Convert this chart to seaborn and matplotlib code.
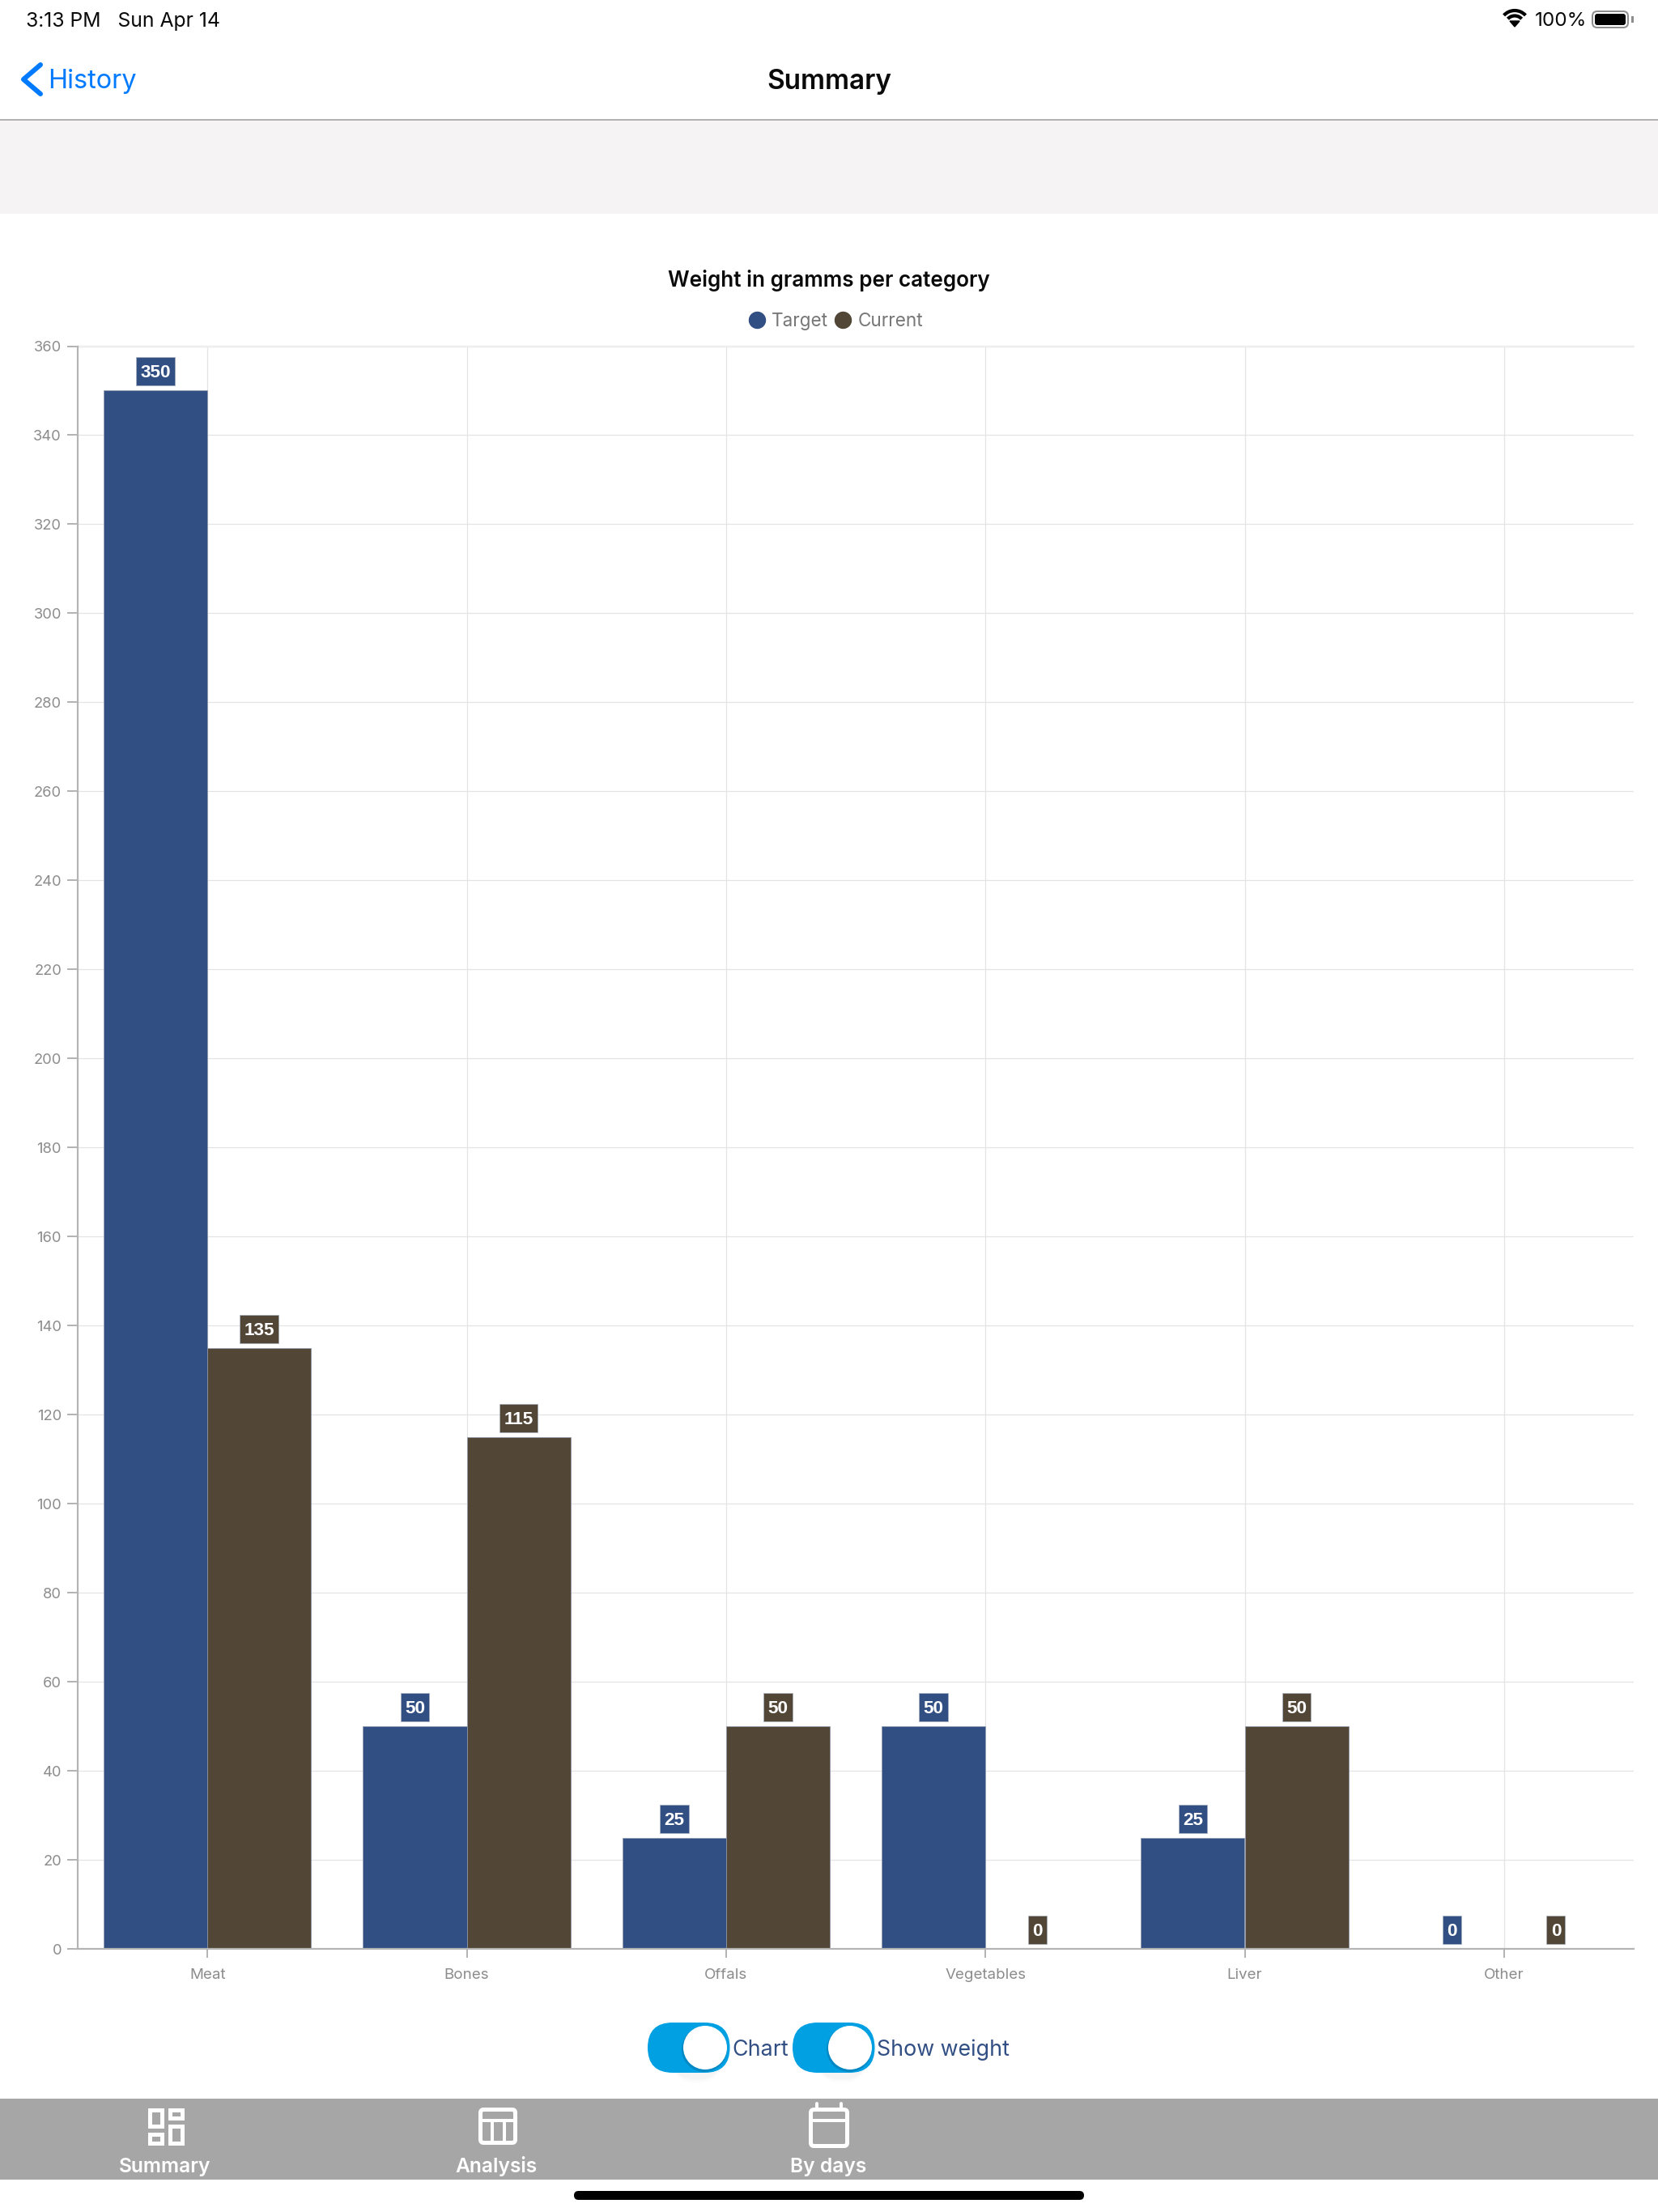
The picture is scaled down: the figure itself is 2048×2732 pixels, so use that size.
import matplotlib
matplotlib.use("Agg")
import matplotlib.pyplot as plt
from matplotlib.lines import Line2D
from matplotlib.patches import Arc, Circle, FancyBboxPatch, Polygon, Rectangle
from matplotlib.path import Path
import numpy as np
import pandas as pd
import seaborn as sns

# Weight data per category
categories = ["Meat", "Bones", "Offals", "Vegetables", "Liver", "Other"]
target_values = [350, 50, 25, 50, 25, 0]
current_values = [135, 115, 50, 0, 50, 0]
series_names = ["Target", "Current"]
y_ticks = list(range(0, 361, 20))

BLUE = "#314f83"
BROWN = "#524737"
GRID = "#e4e4e6"
AXIS = "#b4b4b4"
TICK_TEXT = "#8c8c8c"
PX = 72 / 100  # one pixel in points at dpi 100

sns.set_theme(style="white")
plt.rcParams["font.family"] = ["Inter", "DejaVu Sans"]

W, H = 2048, 2732
fig = plt.figure(figsize=(W / 100, H / 100), dpi=100, facecolor="white")

# Full-window layer in pixel units for the app chrome
ui = fig.add_axes([0, 0, 1, 1], zorder=0)
ui.set_xlim(0, W)
ui.set_ylim(H, 0)
ui.axis("off")

# Chart axes
left, right, top, bottom = 96, 2018, 427.5, 2407
ax = fig.add_axes([left / W, 1 - bottom / H, (right - left) / W, (bottom - top) / H], zorder=2)
ax.patch.set_alpha(0)

df = pd.DataFrame({
    "category": categories * 2,
    "weight": target_values + current_values,
    "series": [series_names[0]] * len(categories) + [series_names[1]] * len(categories),
})
sns.barplot(data=df, x="category", y="weight", hue="series", order=categories,
            hue_order=series_names, palette=[BLUE, BROWN], width=0.8, gap=0,
            saturation=1, edgecolor="#8f99ad", linewidth=0.5, legend=False,
            ax=ax, zorder=3)

ax.set_xlim(-0.5, len(categories) - 0.5)
ax.set_ylim(0, 360)
ax.set_yticks(y_ticks)
ax.set_xlabel("")
ax.set_ylabel("")
ax.grid(True, color=GRID, linewidth=0.9)
ax.set_axisbelow(True)
for side in ("top", "right"):
    ax.spines[side].set_visible(False)
for side in ("left", "bottom"):
    ax.spines[side].set_color(AXIS)
    ax.spines[side].set_linewidth(2.2 * PX)
    ax.spines[side].set_zorder(4)
ax.axhline(360, color="#eeeeee", linewidth=2.5 * PX, zorder=1, clip_on=False)
ax.tick_params(axis="y", length=13 * PX, width=2 * PX, color=AXIS, pad=7 * PX,
               labelsize=13.2, labelcolor=TICK_TEXT, left=True)
ax.tick_params(axis="x", length=11 * PX, width=2 * PX, color=AXIS, pad=13 * PX,
               labelsize=13.5, labelcolor=TICK_TEXT, bottom=True)


def tag_box(x0, y0, width, height, mutation_size):
    """Rectangle around a value tag: padded sideways, fixed 35 px tall."""
    cy = y0 + height / 2 + 2
    xa, xb = x0 - 5.25, x0 + width + 5.25
    ya, yb = cy - 17.5, cy + 17.5
    return Path([(xa, ya), (xb, ya), (xb, yb), (xa, yb), (xa, ya)], closed=True)


# Value tags above every bar
for container, values, colour in zip(ax.containers, [target_values, current_values], [BLUE, BROWN]):
    for bar, value in zip(container, values):
        ax.annotate(str(value), xy=(bar.get_x() + bar.get_width() / 2, value),
                    xytext=(0, 21.5 * PX), textcoords="offset points",
                    ha="center", va="center", color="white", fontsize=16.2,
                    fontweight="bold", family="Liberation Sans", zorder=6,
                    bbox=dict(boxstyle=tag_box, facecolor=colour,
                              edgecolor="#a9b1c0", linewidth=0.5))

# Title and legend
ui.text(1024, 346, "Weight in gramms per category", ha="center", va="center",
        fontsize=18.8, fontweight="semibold", color="#0a0a0a")
handles = [Line2D([], [], linestyle="", marker="o", markersize=20 * PX, color=c, label=n)
           for c, n in zip([BLUE, BROWN], series_names)]
ui.legend(handles=handles, ncol=2, frameon=False, loc="center",
          bbox_to_anchor=(1032, 397), bbox_transform=ui.transData,
          fontsize=16.2, labelcolor="#777777", handletextpad=0.3,
          columnspacing=0.3, borderpad=0, handlelength=1.0)

# Status bar
ui.text(32, 26, "3:13 PM   Sun Apr 14", ha="left", va="center", fontsize=17.8, color="#0a0a0a")
ui.text(1896, 26, "100%", ha="left", va="center", fontsize=17.4, color="#0a0a0a")
for radius, lw in [(18, 4.2), (11.5, 4.2)]:
    ui.add_patch(Arc((1871, 31), 2 * radius, 2 * radius, theta1=222, theta2=318,
                     color="black", linewidth=lw * PX))
ui.add_patch(Polygon([[1871, 33], [1865, 26], [1877, 26]], closed=True, color="black"))
ui.add_patch(FancyBboxPatch((1967, 14), 44, 20, boxstyle="round,pad=0,rounding_size=6",
                            facecolor="none", edgecolor="#8d8d8d", linewidth=2 * PX))
ui.add_patch(FancyBboxPatch((1970, 17), 38, 14, boxstyle="round,pad=0,rounding_size=3",
                            facecolor="black", edgecolor="none"))
ui.add_patch(Rectangle((2014.5, 20), 3, 8, facecolor="#8d8d8d", edgecolor="none"))

# Navigation bar
ui.plot([50, 29, 50], [80, 98, 116], color="#007aff", linewidth=6 * PX,
        solid_capstyle="round", solid_joinstyle="round")
ui.text(59, 101, "History", ha="left", va="center", fontsize=23.3, color="#007aff")
ui.text(1024, 101, "Summary", ha="center", va="center", fontsize=24,
        fontweight="semibold", color="#0a0a0a")
ui.add_patch(Rectangle((0, 147), W, 2, facecolor="#b2b2b2", edgecolor="none"))
ui.add_patch(Rectangle((0, 149), W, 115, facecolor="#f5f3f4", edgecolor="none"))

# Toggle switches below the chart
def draw_toggle(x0, x1, knob_x):
    for grow, alpha in [(14, 0.008), (9, 0.012), (5, 0.018)]:
        ui.add_patch(FancyBboxPatch((x0 + 30, 2504 - grow / 2), x1 - x0 - 40, 62 + grow,
                                    boxstyle="round,pad=0,rounding_size=30",
                                    facecolor="black", edgecolor="none", alpha=alpha))
    ui.add_patch(FancyBboxPatch((x0, 2498), x1 - x0, 62, boxstyle="round,pad=0,rounding_size=31",
                                facecolor="#01a0e3", edgecolor="none"))
    ui.add_patch(Circle((knob_x - 1, 2531), 28, facecolor="#0488c4", edgecolor="none"))
    ui.add_patch(Circle((knob_x, 2529), 27, facecolor="white", edgecolor="none"))

draw_toggle(800, 901.5, 871)
draw_toggle(979, 1080.5, 1050)
ui.text(904, 2532, "Chart", ha="left", va="center", fontsize=19.3, color=BLUE)
ui.text(1083, 2532, "Show weight", ha="left", va="center", fontsize=19.3, color=BLUE)

# Tab bar
ui.add_patch(Rectangle((0, 2592), W, 100, facecolor="#a6a6a6", edgecolor="none"))
white = dict(facecolor="none", edgecolor="white", linewidth=5 * PX, joinstyle="miter")
for x0, y0, x1, y1 in [(184.5, 2605.5, 199.5, 2626), (209.5, 2605.5, 224.5, 2616),
                       (184.5, 2635.5, 199.5, 2647), (209.5, 2625.5, 224.5, 2647)]:
    ui.add_patch(Rectangle((x0, y0), x1 - x0, y1 - y0, **white))

ui.add_patch(FancyBboxPatch((593.5, 2605.5), 43, 41, boxstyle="round,pad=0,rounding_size=4",
                            facecolor="none", edgecolor="white", linewidth=5 * PX))
ui.plot([593, 637], [2619, 2619], color="white", linewidth=4 * PX)
for x in (608, 623):
    ui.plot([x, x], [2619, 2647], color="white", linewidth=4 * PX)

ui.add_patch(FancyBboxPatch((1001.5, 2605.5), 45, 45, boxstyle="round,pad=0,rounding_size=4",
                            facecolor="none", edgecolor="white", linewidth=5 * PX))
ui.plot([1001, 1047], [2619, 2619], color="white", linewidth=4 * PX)
for x in (1009, 1039):
    ui.plot([x, x], [2598, 2605], color="white", linewidth=4 * PX)

for x, label in [(204, "Summary"), (613, "Analysis"), (1023, "By days")]:
    ui.text(x, 2676, label, ha="center", va="center", fontsize=17.7, fontweight="semibold", color="white")

# Home indicator
ui.add_patch(FancyBboxPatch((709, 2706), 630, 11, boxstyle="round,pad=0,rounding_size=5.5",
                            facecolor="black", edgecolor="none"))

fig.savefig("out.png", dpi=100, facecolor="white")
